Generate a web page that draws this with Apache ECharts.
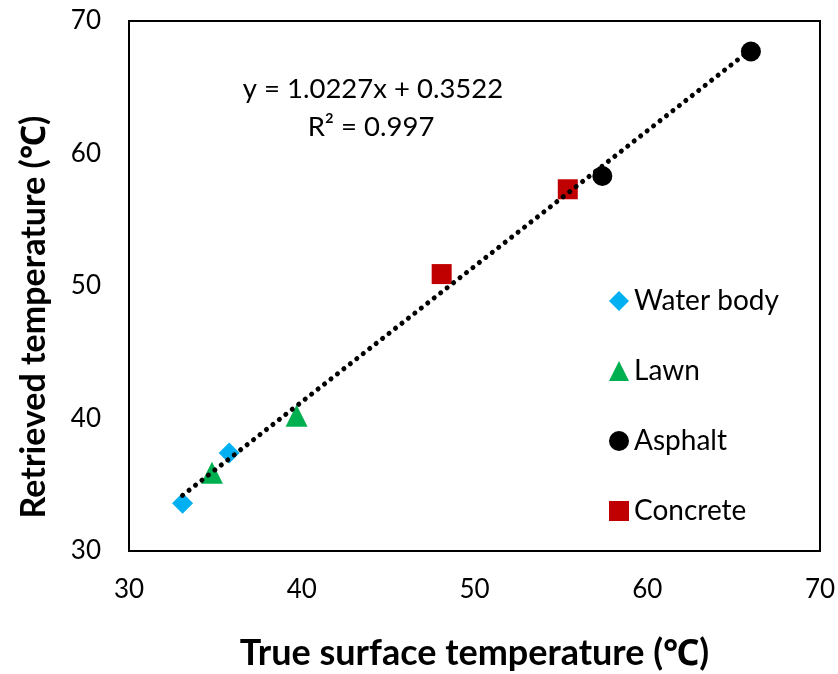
<!DOCTYPE html>
<html><head><meta charset="utf-8">
<script src="https://cdn.jsdelivr.net/npm/echarts@6/dist/echarts.min.js"></script>
<style>html,body{margin:0;padding:0;background:#fff}#c{width:838px;height:674px}</style>
</head><body><div id="c"></div>
<script>
// Data
const waterX = [33.1, 35.8];
const waterY = [33.6, 37.4];
const lawnX = [34.8, 39.7];
const lawnY = [35.9, 40.2];
const asphaltX = [57.4, 66.0];
const asphaltY = [58.3, 67.7];
const concreteX = [48.1, 55.4];
const concreteY = [50.9, 57.3];
// linear trendline end points (consistent with the fit)
const trendX = [33.1, 66.0];
const trendY = [34.2, 67.85];
const seriesNames = ['Water body', 'Lawn', 'Asphalt', 'Concrete'];
const xTicks = [30, 40, 50, 60, 70];
const yTicks = [30, 40, 50, 60, 70];
const eqLine1 = 'y = 1.0227x + 0.3522';
const eqLine2 = 'R² = 0.997';
const xTitle = 'True surface temperature (℃)';
const yTitle = 'Retrieved temperature (℃)';

function pairs(xs, ys) { return xs.map((x, i) => [x, ys[i]]); }
const F = 'Lato, "Noto Sans", sans-serif';
const chart = echarts.init(document.getElementById('c'), null, {renderer: 'canvas'});
const option = {
  animation: false,
  backgroundColor: '#fff',
  grid: {left: 129, right: 18, top: 21, bottom: 123, show: true, borderColor: '#000', borderWidth: 2,
         containLabel: false, outerBoundsMode: 'none'},
  xAxis: {
    type: 'value', min: xTicks[0], max: xTicks[xTicks.length - 1], interval: xTicks[1] - xTicks[0],
    splitLine: {show: false}, axisLine: {show: false}, axisTick: {show: false},
    axisLabel: {fontFamily: F, fontSize: 26, color: '#000', margin: 26},
    name: xTitle, nameLocation: 'middle', nameGap: 84,
    nameTextStyle: {fontFamily: F, fontWeight: 'bold', fontSize: 36, color: '#000'}
  },
  yAxis: {
    type: 'value', min: yTicks[0], max: yTicks[yTicks.length - 1], interval: yTicks[1] - yTicks[0],
    splitLine: {show: false}, axisLine: {show: false}, axisTick: {show: false},
    axisLabel: {fontFamily: F, fontSize: 26, color: '#000', margin: 28},
    name: yTitle, nameLocation: 'middle', nameGap: 78,
    nameTextStyle: {fontFamily: F, fontWeight: 'bold', fontSize: 34, color: '#000', padding: [0, 62, 0, 0]}
  },
  legend: {
    orient: 'vertical', left: 604, top: 282, itemWidth: 20, itemHeight: 20, itemGap: 42,
    textStyle: {fontFamily: F, fontSize: 28, color: '#000', lineHeight: 28},
    data: seriesNames
  },
  series: [
    {name: seriesNames[0], type: 'scatter', symbol: 'diamond', symbolSize: 21, itemStyle: {color: '#00B0F0', opacity: 1}, data: pairs(waterX, waterY), z: 2},
    {name: seriesNames[1], type: 'scatter', symbol: 'triangle', symbolSize: [22, 22], itemStyle: {color: '#00B050', opacity: 1}, data: pairs(lawnX, lawnY), z: 2},
    {name: seriesNames[2], type: 'scatter', symbol: 'circle', symbolSize: 20, itemStyle: {color: '#000', opacity: 1}, data: pairs(asphaltX, asphaltY), z: 2},
    {name: seriesNames[3], type: 'scatter', symbol: 'rect', symbolSize: 20, itemStyle: {color: '#C00000', opacity: 1}, data: pairs(concreteX, concreteY), z: 2},
    {name: 'Linear', type: 'line', showSymbol: false, symbol: 'none', data: pairs(trendX, trendY), z: 5,
     lineStyle: {color: '#000', width: 5, type: [0.1, 8.1], cap: 'round'}}
  ],
  graphic: [
    {type: 'text', x: 373, y: 89, style: {text: eqLine1, font: '27.5px ' + F, fill: '#000', align: 'center', verticalAlign: 'middle'}},
    {type: 'text', x: 371, y: 127, style: {text: eqLine2, font: '27.5px ' + F, fill: '#000', align: 'center', verticalAlign: 'middle'}}
  ]
};
chart.setOption(option);
</script></body></html>
